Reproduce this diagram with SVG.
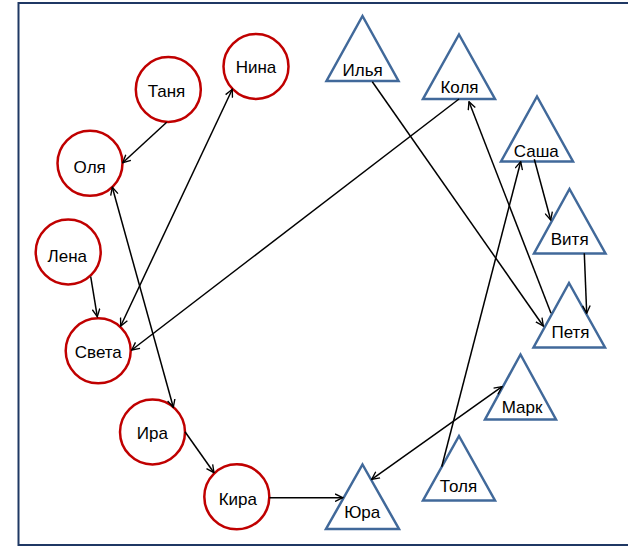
<svg xmlns="http://www.w3.org/2000/svg" width="628" height="546" viewBox="0 0 628 546">
<style>
.frame{fill:none;stroke:#1f3864;stroke-width:2}
.c{fill:#fff;stroke:#c00000;stroke-width:2.5}
.t{fill:#fff;stroke:#41699a;stroke-width:2.5;stroke-linejoin:miter}
text{font-family:"Liberation Sans",Arial,sans-serif;font-size:17px;fill:#000;text-anchor:middle}
.e{fill:none;stroke:#000;stroke-width:1.5}
.a{marker-end:url(#ah)}
.b{marker-end:url(#ah);marker-start:url(#ah)}
</style>
<defs>
<marker id="ah" viewBox="0 0 10 10" refX="9" refY="5" markerWidth="9" markerHeight="9" markerUnits="userSpaceOnUse" orient="auto-start-reverse">
<path d="M0.5,0.8 L9,5 L0.5,9.2" fill="none" stroke="#000" stroke-width="1.5"/>
</marker>
</defs>
<rect width="628" height="546" fill="#fff"/>
<path class="frame" d="M628,3 H18.5 V545 H628"/>
<g id="nodes">
<g id="n-nina"><circle class="c" cx="256" cy="66.5" r="32.5"/><text x="256" y="72.5">Нина</text></g>
<g id="n-tanya"><circle class="c" cx="168.3" cy="89.5" r="32.5"/><text x="166.5" y="96.5">Таня</text></g>
<g id="n-olya"><circle class="c" cx="90" cy="163.3" r="32.5"/><text x="89.7" y="172.5">Оля</text></g>
<g id="n-lena"><circle class="c" cx="68.2" cy="252" r="32.5"/><text x="67.3" y="262">Лена</text></g>
<g id="n-sveta"><circle class="c" cx="98.2" cy="350.8" r="32.5"/><text x="98.3" y="358">Света</text></g>
<g id="n-ira"><circle class="c" cx="152.5" cy="432" r="32.5"/><text x="152.3" y="439">Ира</text></g>
<g id="n-kira"><circle class="c" cx="236.8" cy="496.8" r="32.5"/><text x="237.8" y="504.8">Кира</text></g>
<g id="n-ilya"><polygon class="t" points="362.5,16 398.5,81 326.5,81"/><text x="362.7" y="76">Илья</text></g>
<g id="n-kolya"><polygon class="t" points="459,34.5 495,99 423,99"/><text x="459.5" y="93.3">Коля</text></g>
<g id="n-sasha"><polygon class="t" points="537,96.5 573,161.5 501,161.5"/><text x="536.3" y="156.7">Саша</text></g>
<g id="n-vitya"><polygon class="t" points="569.5,189 605.5,253.5 534,253.5"/><text x="569.7" y="245">Витя</text></g>
<g id="n-petya"><polygon class="t" points="569,283 605,347.5 533.5,347.5"/><text x="570.5" y="338.3">Петя</text></g>
<g id="n-mark"><polygon class="t" points="520.5,354.5 556,419.5 485,419.5"/><text x="522" y="413.3">Марк</text></g>
<g id="n-tolya"><polygon class="t" points="459,436 495,500.5 423,500.5"/><text x="458.5" y="491.7">Толя</text></g>
<g id="n-yura"><polygon class="t" points="362.5,464.5 399,529 326,529"/><text x="362.2" y="518.3">Юра</text></g>
</g>
<g id="connectors">
<path class="e a" d="M166.7,122.3 L122.7,162.7"/>
<path class="e b" d="M112.3,187.3 L173.3,407.3"/>
<path class="e b" d="M232.3,89.3 L120.7,326"/>
<path class="e a" d="M90.7,276.7 L97.3,316.7"/>
<path class="e a" d="M459,99 L131.7,350"/>
<path class="e a" d="M185,431.7 L214,472.7"/>
<path class="e a" d="M269.5,497.7 L342.7,497.7"/>
<path class="e b" d="M502,386.7 L371.7,479.3"/>
<path class="e a" d="M441.7,466.7 L520.7,161.7"/>
<path class="e a" d="M534.3,159.3 L550.7,220"/>
<path class="e a" d="M584.3,253.3 L586.7,313.3"/>
<path class="e a" d="M372.3,81.7 L543.3,326"/>
<path class="e a" d="M551,313.3 L469,101.7"/>
</g>
</svg>
